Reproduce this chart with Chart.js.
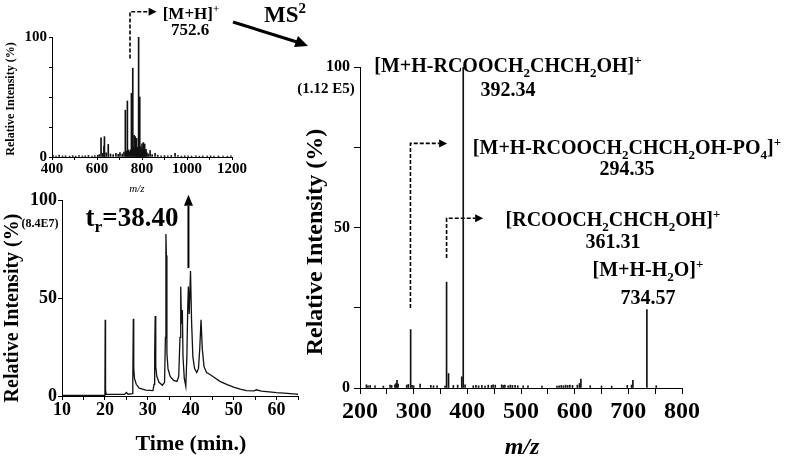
<!DOCTYPE html>
<html>
<head>
<meta charset="utf-8">
<script src="https://cdn.jsdelivr.net/npm/chart.js@4.4.0/dist/chart.umd.min.js"></script>
<style>
  html, body { margin: 0; padding: 0; background: #fff; }
  #wrap { position: relative; width: 787px; height: 458px; overflow: hidden; color: #000;
          font-family: 'Liberation Serif', 'Times New Roman', serif; font-weight: bold; }
  canvas { position: absolute; }
  .t { position: absolute; white-space: nowrap; line-height: 1; transform: translate(-50%, -50%); }
  .t sub, .t sup { font-size: 0.65em; line-height: 0; }
  .rot { transform: translate(-50%, -50%) rotate(-90deg); }
  .it { font-style: italic; }
</style>
</head>
<body>
<div id="wrap">
  <canvas id="ms1" width="260" height="195" style="left:0;top:0"></canvas>
  <canvas id="lc" width="320" height="268" style="left:0;top:190px"></canvas>
  <canvas id="ms2" width="497" height="458" style="left:290px;top:0"></canvas>

  <svg width="787" height="458" style="position:absolute;left:0;top:0;pointer-events:none">
    <line x1="233" y1="22" x2="297" y2="42" stroke="#000" stroke-width="3"/>
    <polygon points="308,46 294,47 298,36" fill="#000"/>
  </svg>

  <!-- MS1 inset -->
  <div class="t" style="left:191px;top:13px;font-size:17px">[M+H]<sup>+</sup></div>
  <div class="t" style="left:190px;top:29px;font-size:17px">752.6</div>
  <div class="t rot" style="left:10px;top:99px;font-size:12px">Relative Intensity (%)</div>
  <div class="t it" style="left:137px;top:188px;font-size:11px;font-weight:normal">m/z</div>
  <div class="t" style="left:285px;top:14px;font-size:23px">MS<sup>2</sup></div>

  <!-- chromatogram -->
  <div class="t" style="left:132px;top:217px;font-size:27px">t<sub>r</sub>=38.40</div>
  <div class="t" style="left:40px;top:223px;font-size:12px">(8.4E7)</div>
  <div class="t rot" style="left:11px;top:308px;font-size:20px">Relative Intensity (%)</div>
  <div class="t" style="left:191px;top:443px;font-size:22px">Time (min.)</div>

  <!-- MS2 -->
  <div class="t" style="left:326px;top:88px;font-size:15px">(1.12 E5)</div>
  <div class="t rot" style="left:314px;top:242px;font-size:24px">Relative Intensity (%)</div>
  <div class="t it" style="left:522px;top:446px;font-size:24px">m/z</div>
  <div class="t" style="left:508px;top:65px;font-size:20px">[M+H-RCOOCH<sub>2</sub>CHCH<sub>2</sub>OH]<sup>+</sup></div>
  <div class="t" style="left:508px;top:89px;font-size:20px">392.34</div>
  <div class="t" style="left:627px;top:147px;font-size:20px">[M+H-RCOOCH<sub>2</sub>CHCH<sub>2</sub>OH-PO<sub>4</sub>]<sup>+</sup></div>
  <div class="t" style="left:627px;top:168px;font-size:20px">294.35</div>
  <div class="t" style="left:613px;top:219px;font-size:20px">[RCOOCH<sub>2</sub>CHCH<sub>2</sub>OH]<sup>+</sup></div>
  <div class="t" style="left:613px;top:241px;font-size:20px">361.31</div>
  <div class="t" style="left:648px;top:269px;font-size:20px">[M+H-H<sub>2</sub>O]<sup>+</sup></div>
  <div class="t" style="left:648px;top:297px;font-size:20px">734.57</div>
</div>

<script>
// full scan MS (inset)
const ms1Mz = [405, 418, 432, 447, 460, 478, 492, 505, 520, 535, 548, 562, 578, 590, 603, 610, 618, 625, 631, 633, 641, 650, 660, 672, 684, 694, 702, 712, 720, 726, 730, 735, 740, 745, 750, 753, 759, 762, 765, 770, 773, 776, 780, 783, 785, 788, 790, 794, 797, 800, 803, 806, 809, 812, 815, 818, 822, 828, 836, 845, 858, 870, 885, 900, 915, 930, 947, 960, 975, 990, 1005, 1020, 1040, 1055, 1070, 1090, 1105, 1120, 1140, 1160, 1180, 1195];
const ms1Int = [1.2, 0.8, 1.5, 0.9, 1.0, 0.7, 1.1, 0.8, 1.2, 0.9, 1.0, 1.3, 0.8, 1.1, 1.4, 2.0, 16, 3.0, 9, 17, 3.5, 10.5, 2.5, 2.0, 3.0, 2.2, 3.6, 2.5, 4.0, 39, 5, 46.7, 6, 4.5, 6, 53, 74, 8, 18, 17, 9, 15.5, 8, 6, 100, 9, 50, 8.6, 6, 11, 7, 12, 6, 10.8, 5, 6.4, 3.5, 2.5, 5.3, 2.0, 3.0, 1.5, 1.0, 1.2, 0.9, 1.3, 3.0, 1.1, 0.8, 1.0, 0.9, 0.8, 1.0, 0.7, 0.9, 0.8, 1.0, 0.7, 0.9, 0.8, 0.7, 0.9];

// total ion chromatogram
const lcTime = [10, 19.9, 20.0, 20.07, 20.15, 20.3, 24.6, 25.0, 25.4, 26.4, 26.5, 26.62, 26.72, 26.9, 27.3, 28.0, 29.5, 31.2, 31.45, 31.6, 31.72, 31.85, 32.1, 32.6, 33.4, 33.9, 34.1, 34.22, 34.33, 34.45, 34.7, 35.2, 36.0, 36.8, 37.2, 37.5, 37.67, 37.85, 38.05, 38.2, 38.5, 38.85, 39.1, 39.3, 39.45, 39.65, 39.95, 40.2, 40.5, 40.9, 41.4, 41.8, 42.1, 42.4, 42.7, 43.1, 43.7, 44.5, 45.5, 46.8, 48.5, 50.0, 51.5, 53.0, 54.8, 55.3, 56.5, 57.7, 60.0, 62.5, 64.6, 65];
const lcInt = [0.3, 0.3, 0.5, 39, 3, 0.8, 0.8, 1.8, 0.9, 1.2, 8, 39.5, 14, 9, 6, 4, 3, 2.8, 6, 22, 41, 15, 10, 7, 5.5, 7, 30, 83, 72, 22, 14, 10, 8, 7.5, 10, 30, 56, 37, 44, 20, 9, 5, 20, 45, 56, 42, 64, 38, 20, 14, 12, 14, 24, 39, 24, 15, 12, 11, 9.5, 7.5, 5.8, 4.5, 3.5, 2.8, 2.6, 3.2, 2.5, 2.2, 1.7, 1.3, 1.0, 0.9];

// MS2 of m/z 752.6
const ms2Mz = [212, 215, 219, 228, 243.5, 256, 259, 265, 267, 269, 271, 287, 290, 294.35, 297, 300, 312, 332, 337, 343.6, 358.5, 361.31, 365, 374, 382, 389.6, 392.34, 395.8, 411, 416, 421, 427, 433, 439, 445, 448, 452, 464, 467, 470, 476, 480, 484, 489, 494, 504, 513, 539, 567, 571, 575, 579, 583, 587, 591, 596, 605, 609, 611.6, 629, 650, 669, 698, 706, 708.5, 734.57, 752];
const ms2Int = [1.0, 0.7, 0.8, 0.7, 0.6, 0.9, 0.8, 1.0, 1.4, 2.4, 1.2, 0.9, 1.1, 18.2, 0.8, 0.7, 1.2, 0.8, 0.7, 0.7, 0.6, 33.0, 4.5, 0.8, 0.9, 3.5, 100, 1.0, 0.7, 0.8, 0.7, 0.8, 0.6, 0.9, 0.8, 1.0, 0.9, 1.0, 0.8, 0.9, 0.7, 0.9, 0.8, 0.8, 0.7, 0.7, 0.7, 0.6, 0.6, 0.7, 0.8, 0.7, 0.9, 0.8, 0.9, 0.8, 0.9, 1.4, 2.8, 0.7, 0.6, 0.6, 0.8, 0.9, 2.4, 24.4, 0.7];

// leader arrows, in data units: x, from y, to y, optional end x
const ms1Leaders = [{ x: 746.7, from: 82, to: 121, toX: 865, dash: [4, 2] }];
const lcLeaders = [{ x: 39.47, from: 65.5, to: 103, solid: true }];
const ms2Leaders = [
  { x: 294, from: 24.9, to: 76.2, toX: 362.3, dash: [4, 2] },
  { x: 361.31, from: 40.5, to: 52.9, toX: 429.4, dash: [4, 2] }
];

const FONT = "'Liberation Serif', 'Times New Roman', serif";

const leaderPlugin = {
  id: 'leaders',
  afterDatasetsDraw(chart, args, opts) {
    const { ctx, scales: { x, y } } = chart;
    (opts.items || []).forEach(a => {
      const px = x.getPixelForValue(a.x);
      const y0 = y.getPixelForValue(a.from), y1 = y.getPixelForValue(a.to);
      const hl = a.solid ? 11 : 8, hw = a.solid ? 4.5 : 4;
      ctx.save();
      ctx.strokeStyle = '#000'; ctx.fillStyle = '#000';
      ctx.lineWidth = a.solid ? 2 : 1.6;
      ctx.setLineDash(a.dash || []);
      ctx.beginPath();
      ctx.moveTo(px, y0);
      if (a.toX != null) {
        const ex = x.getPixelForValue(a.toX);
        ctx.lineTo(px, y1); ctx.lineTo(ex - hl, y1); ctx.stroke();
        ctx.beginPath(); ctx.moveTo(ex, y1); ctx.lineTo(ex - hl, y1 - hw); ctx.lineTo(ex - hl, y1 + hw);
      } else {
        ctx.lineTo(px, y1 + hl); ctx.stroke();
        ctx.beginPath(); ctx.moveTo(px, y1); ctx.lineTo(px - hw, y1 + hl); ctx.lineTo(px + hw, y1 + hl);
      }
      ctx.closePath(); ctx.fill();
      ctx.restore();
    });
  }
};

function axis(o) {
  return {
    type: 'linear', min: o.min, max: o.max, offset: false,
    border: { display: true, color: '#000', width: 1 },
    grid: { display: true, drawOnChartArea: false, drawTicks: true, tickLength: o.tick, color: '#000', tickColor: '#000', offset: false },
    ticks: {
      stepSize: o.step, autoSkip: false, maxRotation: 0, padding: o.pad, color: '#000',
      font: { family: FONT, weight: 'bold', size: o.size },
      callback: v => (o.labels.includes(v) ? String(v) : '')
    },
    afterFit: s => {
      if (s.isHorizontal()) s.height = o.box; else s.width = o.box;
      s.paddingLeft = s.paddingRight = s.paddingTop = s.paddingBottom = 0;
    }
  };
}

function baseOpts(pad, xs, ys, leaders) {
  return {
    responsive: false, animation: false, events: [],
    layout: { padding: pad },
    plugins: { legend: { display: false }, tooltip: { enabled: false }, leaders: { items: leaders } },
    scales: { x: xs, y: ys }
  };
}

new Chart(document.getElementById('ms1'), {
  type: 'bar',
  data: { datasets: [{ data: ms1Mz.map((m, i) => ({ x: m, y: ms1Int[i] })), backgroundColor: '#111', barThickness: 1, borderWidth: 0 }] },
  options: baseOpts({ left: 0, top: 37, right: 28, bottom: 0 },
    axis({ min: 400, max: 1200, step: 100, labels: [400, 600, 800, 1000, 1200], tick: 3, pad: 0, size: 15, box: 38 }),
    axis({ min: 0, max: 100, step: 25, labels: [0, 100], tick: 3, pad: 2, size: 15, box: 52 }),
    ms1Leaders),
  plugins: [leaderPlugin]
});

new Chart(document.getElementById('lc'), {
  type: 'line',
  data: { datasets: [{ data: lcTime.map((t, i) => ({ x: t, y: lcInt[i] })), borderColor: '#111', borderWidth: 1.3, pointRadius: 0, tension: 0, fill: false }] },
  options: baseOpts({ left: 0, top: 10.7, right: 22, bottom: 0 },
    axis({ min: 10, max: 65, step: 5, labels: [10, 20, 30, 40, 50, 60], tick: 4, pad: 0, size: 18, box: 62 }),
    axis({ min: 0, max: 100, step: 50, labels: [0, 50, 100], tick: 4, pad: 1, size: 18, box: 62 }),
    lcLeaders),
  plugins: [leaderPlugin]
});

new Chart(document.getElementById('ms2'), {
  type: 'bar',
  data: { datasets: [{ data: ms2Mz.map((m, i) => ({ x: m, y: ms2Int[i] })), backgroundColor: '#111', barThickness: 1, borderWidth: 0 }] },
  options: baseOpts({ left: 0, top: 67, right: 105, bottom: 0 },
    axis({ min: 200, max: 800, step: 50, labels: [200, 300, 400, 500, 600, 700, 800], tick: 6, pad: 3, size: 24, box: 70 }),
    axis({ min: 0, max: 100, step: 25, labels: [0, 50, 100], tick: 6, pad: 4, size: 16, box: 70 }),
    ms2Leaders),
  plugins: [leaderPlugin]
});
</script>
</body>
</html>
